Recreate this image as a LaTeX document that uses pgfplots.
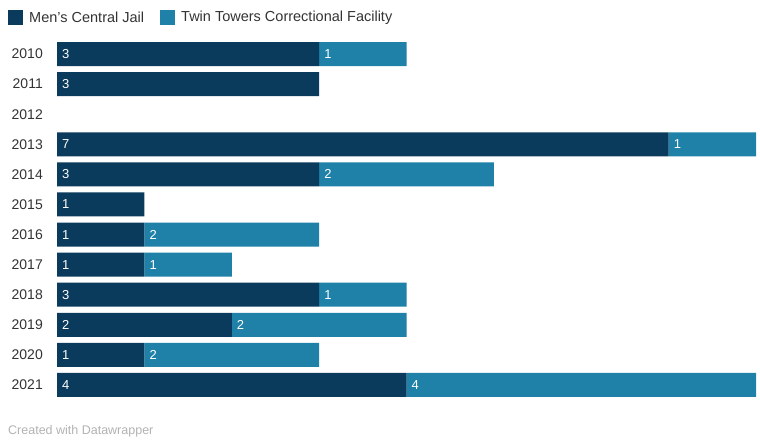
\documentclass[border=0pt]{standalone}
\usepackage{pgfplots}
\usepackage{pgfplotstable}
\pgfplotsset{compat=1.18}
\usepackage{fontspec}
\setmainfont{Liberation Sans}
\definecolor{mcj}{HTML}{0A3A5C}
\definecolor{tt}{HTML}{1F80A8}
\definecolor{lbl}{HTML}{333333}
\pgfplotstableread{
idx mcj tt
0 3 1
1 3 0
2 0 0
3 7 1
4 3 2
5 1 0
6 1 2
7 1 1
8 3 1
9 2 2
10 1 2
11 4 4
}\data
\pgfplotstableread{
x y l
0 0 3
0 1 3
0 3 7
0 4 3
0 5 1
0 6 1
0 7 1
0 8 3
0 9 2
0 10 1
0 11 4
}\labA
\pgfplotstableread{
x y l
3 0 1
7 3 1
3 4 2
1 6 2
1 7 1
3 8 1
2 9 2
1 10 2
4 11 4
}\labB
\begin{document}
\begin{tikzpicture}[x=1pt,y=1pt]
\useasboundingbox (0,0) rectangle (760,440);
\pgfplotsset{base/.style={scale only axis, width=699pt, height=361pt,
  xmin=0, xmax=8, ymin=-0.5, ymax=11.5, y dir=reverse,
  axis line style={draw=none}, tick style={draw=none},
  xtick=\empty, at={(57pt,40pt)}, anchor=south west, clip=false}}
\begin{axis}[base, xbar stacked, bar width=24pt,
  ytick={0,...,11},
  yticklabels={2010,2011,2012,2013,2014,2015,2016,2017,2018,2019,2020,2021},
  yticklabel style={anchor=east, inner sep=0pt, xshift=-14pt, font=\fontsize{14}{16}\selectfont, text=lbl}]
\addplot[fill=mcj, draw=none] table[x=mcj, y=idx] {\data};
\addplot[fill=tt, draw=none] table[x=tt, y=idx] {\data};
\end{axis}
\begin{axis}[base, ytick=\empty]
\addplot[only marks, mark=none, nodes near coords, point meta=explicit symbolic,
  nodes near coords style={anchor=west, text=white, inner sep=0pt, xshift=5pt, font=\fontsize{13}{15}\selectfont}]
  table[x=x, y=y, meta=l] {\labA};
\addplot[only marks, mark=none, nodes near coords, point meta=explicit symbolic,
  nodes near coords style={anchor=west, text=white, inner sep=0pt, xshift=5pt, font=\fontsize{13}{15}\selectfont}]
  table[x=x, y=y, meta=l] {\labB};
\end{axis}
\fill[mcj] (8,415) rectangle (23,430);
\node[anchor=west, inner sep=0pt, text=lbl, font=\fontsize{14.5}{16}\selectfont] at (29,422.5) {Men's Central Jail};
\fill[tt] (160,415) rectangle (175,430);
\node[anchor=west, inner sep=0pt, text=lbl, font=\fontsize{14.5}{16}\selectfont] at (181,422.5) {Twin Towers Correctional Facility};
\node[anchor=west, inner sep=0pt, text=black!30, font=\fontsize{12.5}{14}\selectfont] at (8,9) {Created with Datawrapper};
\end{tikzpicture}
\end{document}
